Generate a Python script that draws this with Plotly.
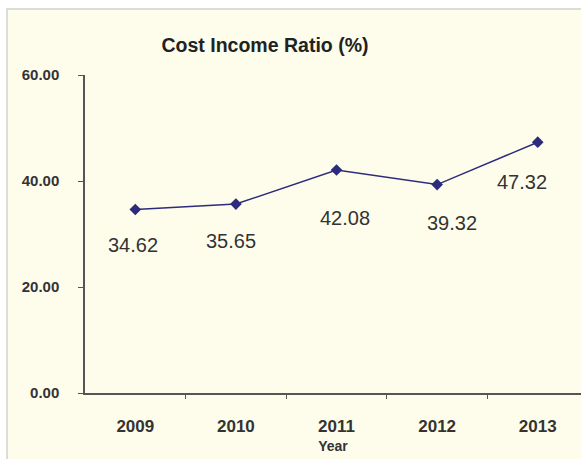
import plotly.graph_objects as go

# Cost income ratio by year
years = ["2009", "2010", "2011", "2012", "2013"]
ratio = [34.62, 35.65, 42.08, 39.32, 47.32]
y_ticks = [0, 20, 40, 60]
y_tick_text = ["0.00", "20.00", "40.00", "60.00"]

# label placement relative to each marker (pixels)
label_dx = [-2, -5, 8, 15, -16]
label_dy = [-35, -37, -48, -38, -40]

W, H = 581, 459
ML, MR, MT, MB = 85, 0, 75, 66
plot_w = W - ML - MR
plot_h = H - MT - MB

line_color = "#2d2b7d"
text_color = "#333333"
cream = "#fefdeb"

fig = go.Figure()
fig.add_trace(go.Scatter(
    x=list(range(len(years))), y=ratio, mode="lines+markers",
    line=dict(color=line_color, width=1.5),
    marker=dict(symbol="diamond", size=9, color=line_color),
    hoverinfo="skip", showlegend=False,
))

for i, (v, dx, dy) in enumerate(zip(ratio, label_dx, label_dy)):
    fig.add_annotation(
        x=i, y=v, xref="x", yref="y", text=f"{v:.2f}", showarrow=False,
        xshift=dx, yshift=dy,
        font=dict(family="Liberation Sans, Arial", size=20, color=text_color),
    )

# cream chart panel with thin grey border
fig.add_shape(
    type="rect", xref="paper", yref="paper", layer="below",
    x0=(7 - ML) / plot_w, x1=(W + 10 - ML) / plot_w,
    y0=-(H + 10 - MT - plot_h) / plot_h, y1=(H - MB - 9) / plot_h,
    fillcolor=cream, line=dict(color="#d2d2ca", width=1.5),
)

fig.update_layout(
    width=W, height=H,
    margin=dict(l=ML, r=MR, t=MT, b=MB),
    paper_bgcolor="white", plot_bgcolor="rgba(0,0,0,0)",
    font=dict(family="Liberation Sans, Arial", color=text_color),
    title=dict(
        text="<b>Cost Income Ratio (%)</b>",
        x=265 / W, xanchor="center", y=1 - 45 / H, yanchor="middle",
        font=dict(size=19.5, color="#222222"),
    ),
    xaxis=dict(
        range=[-0.5, 4.43],
        tickvals=list(range(len(years))), ticktext=[f"<b>{y}</b>" for y in years],
        ticks="", showline=True, linecolor="#555555", linewidth=1.5,
        showgrid=False, zeroline=False, ticklabelstandoff=17,
        tickfont=dict(size=17, color="#333333"),
        title=dict(text="<b>Year</b>", font=dict(size=14, color="#333333"), standoff=6),
        minor=dict(tickvals=[0.5, 1.5, 2.5, 3.5], ticks="outside", ticklen=4,
                   tickcolor="#555555", showgrid=False),
    ),
    yaxis=dict(
        range=[0, 60], tickvals=y_ticks, ticktext=[f"<b>{t}</b>" for t in y_tick_text],
        ticks="outside", ticklen=5, tickcolor="#555555",
        showline=True, linecolor="#555555", linewidth=1.5,
        showgrid=False, zeroline=False, ticklabelstandoff=16,
        tickfont=dict(size=15, color="#333333"),
    ),
)

fig.write_html("out.html")
